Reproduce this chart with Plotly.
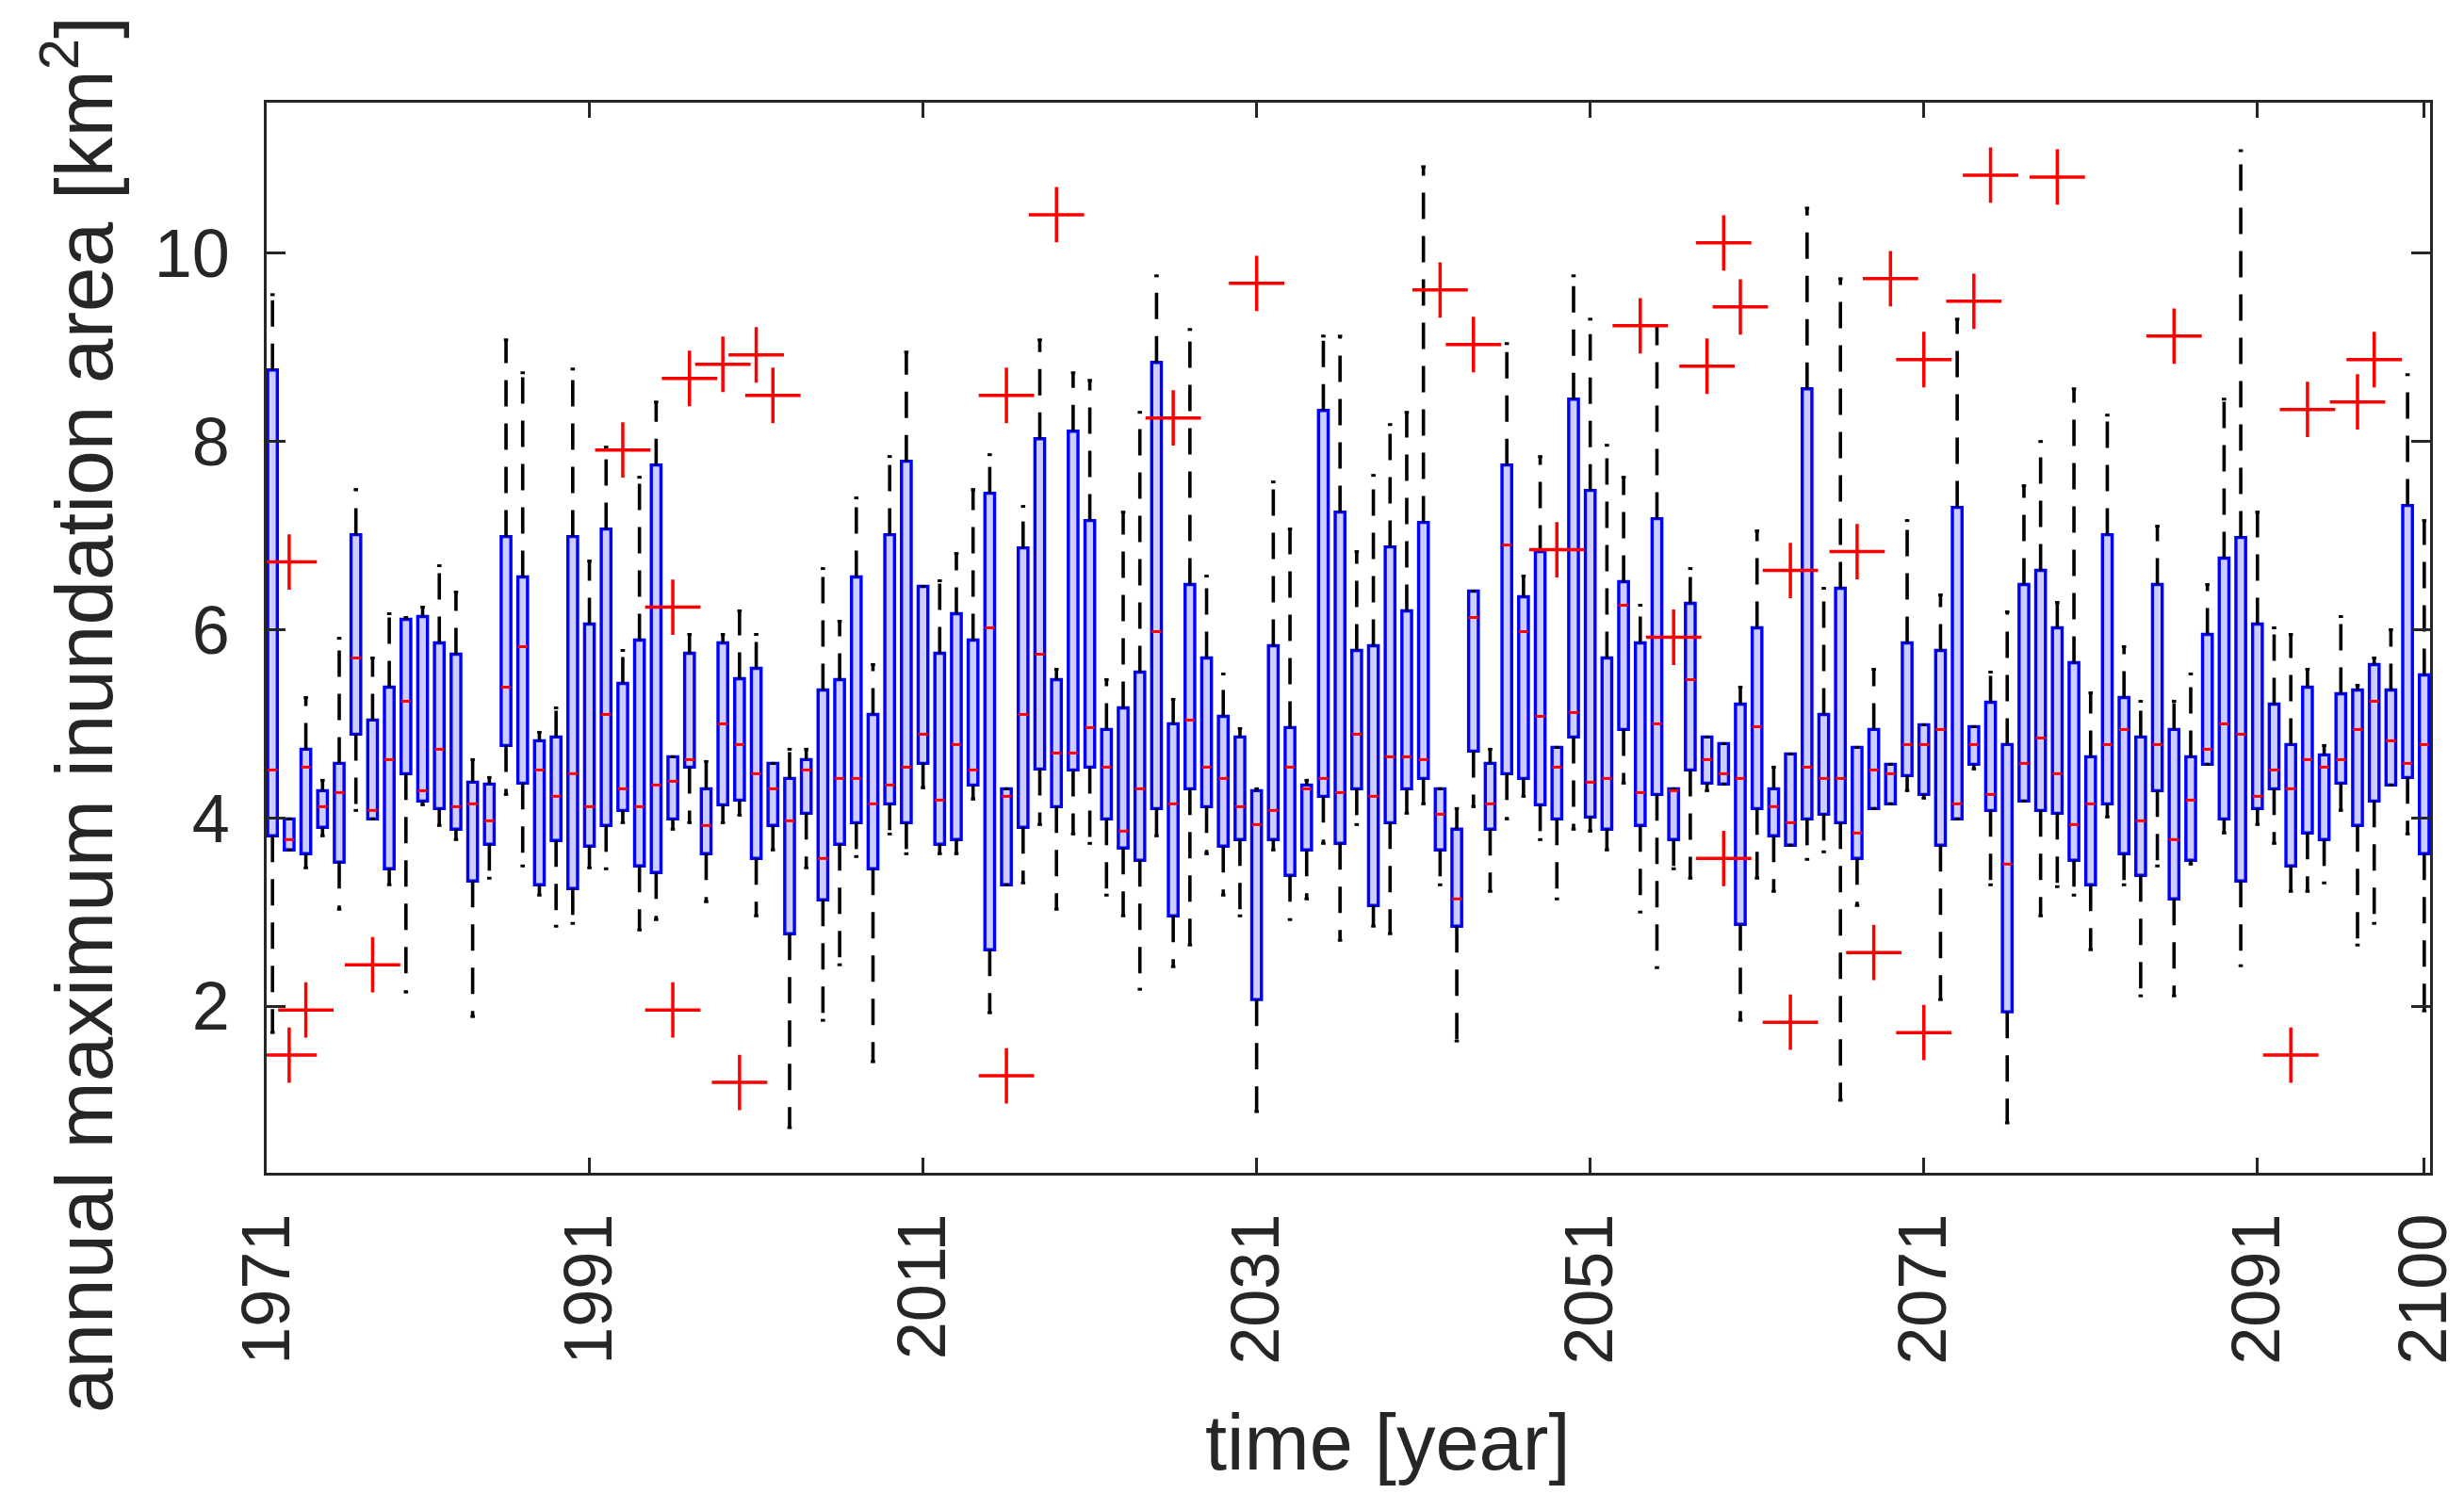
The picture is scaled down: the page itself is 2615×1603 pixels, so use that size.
import plotly.graph_objects as go

# one box per year, drawn at index positions 1..130
years = list(range(1971, 2101))
pos = list(range(1, len(years) + 1))

lo = [1.72, 3.66, 3.47, 3.81, 3.03, 4.08, 3.99, 3.29, 2.15, 4.14,
      3.92, 3.77, 1.89, 3.36, 4.25, 3.49, 3.18, 2.85, 2.88, 3.47,
      3.46, 3.95, 2.81, 2.92, 3.88, 3.95, 3.11, 3.95, 4.03, 2.96,
      3.66, 0.71, 3.47, 1.85, 2.44, 3.59, 1.41, 3.83, 3.62, 4.32,
      3.62, 3.62, 4.20, 1.93, 3.29, 3.31, 3.93, 3.03, 3.83, 3.73,
      3.18, 2.96, 2.18, 3.81, 2.42, 2.65, 3.62, 3.18, 2.96, 0.88,
      3.66, 2.92, 3.14, 3.73, 2.70, 3.93, 2.85, 2.77, 4.05, 4.15,
      3.29, 1.63, 4.12, 3.22, 3.99, 4.23, 3.77, 3.14, 3.88, 3.86,
      3.66, 4.37, 3.00, 2.41, 3.46, 3.36, 4.29, 4.36, 1.85, 3.36,
      3.22, 3.71, 3.56, 3.64, 1.00, 3.07, 4.10, 4.15, 4.29, 4.21,
      2.07, 3.99, 4.52, 3.29, 0.76, 4.18, 2.96, 3.27, 3.18, 2.60,
      4.01, 3.29, 2.11, 3.49, 2.11, 3.51, 4.57, 3.84, 2.43, 3.93,
      3.73, 3.22, 3.22, 3.31, 4.08, 2.65, 2.88, 4.35, 3.83, 1.95]

q1 = [3.81, 3.66, 3.62, 3.90, 3.53, 4.89, 3.99, 3.46, 4.47, 4.18,
      4.10, 3.88, 3.33, 3.72, 4.77, 4.37, 3.29, 3.76, 3.25, 3.70,
      3.92, 4.08, 3.49, 3.42, 3.99, 4.54, 3.62, 4.14, 4.19, 3.57,
      3.92, 2.77, 4.05, 3.13, 3.72, 3.95, 3.46, 4.15, 3.95, 4.58,
      3.72, 3.77, 4.35, 2.60, 3.29, 3.90, 4.52, 4.12, 4.51, 4.54,
      3.99, 3.68, 3.55, 4.10, 2.96, 4.31, 4.12, 3.70, 3.77, 2.07,
      3.77, 3.39, 3.66, 4.23, 3.73, 4.31, 3.07, 3.95, 4.31, 4.42,
      3.66, 2.85, 4.71, 3.88, 4.47, 4.42, 4.14, 3.99, 4.86, 4.01,
      3.88, 4.94, 3.92, 4.25, 3.77, 4.51, 4.37, 4.36, 2.87, 4.10,
      3.81, 3.71, 3.99, 4.04, 3.95, 3.57, 4.10, 4.15, 4.45, 4.25,
      3.71, 3.99, 4.57, 4.08, 1.94, 4.18, 4.08, 4.05, 3.55, 3.29,
      4.15, 3.62, 3.39, 4.29, 3.14, 3.55, 4.57, 3.99, 3.33, 4.10,
      4.31, 3.49, 3.84, 3.77, 4.37, 3.92, 4.18, 4.35, 4.43, 3.62]

med = [4.51, 3.77, 4.54, 4.12, 4.27, 5.70, 4.08, 4.62, 5.24, 4.29,
       4.73, 4.12, 4.15, 3.97, 5.39, 5.82, 4.51, 4.23, 4.47, 4.12,
       5.10, 4.31, 4.12, 4.35, 4.39, 4.62, 3.92, 5.00, 4.78, 4.47,
       4.31, 3.97, 4.51, 3.57, 4.42, 4.42, 4.15, 4.35, 4.54, 4.89,
       4.19, 4.78, 4.51, 6.02, 4.23, 5.10, 5.74, 4.69, 4.69, 4.96,
       4.54, 3.86, 4.31, 5.98, 4.15, 5.04, 4.54, 4.42, 4.12, 3.93,
       4.08, 4.54, 4.31, 4.42, 4.27, 4.89, 4.23, 4.65, 4.65, 4.62,
       4.04, 3.14, 6.13, 4.15, 6.90, 5.98, 5.08, 4.54, 5.12, 4.38,
       4.42, 6.26, 4.27, 5.00, 4.29, 5.47, 4.62, 4.47, 4.42, 4.97,
       4.12, 3.95, 4.54, 4.42, 4.42, 3.84, 4.51, 4.47, 4.78, 4.78,
       4.94, 4.15, 4.78, 4.25, 3.51, 4.58, 4.85, 4.47, 3.93, 4.15,
       4.78, 4.94, 3.97, 4.78, 3.77, 4.19, 4.73, 5.00, 4.89, 4.23,
       4.51, 4.31, 4.62, 4.54, 4.62, 4.94, 5.24, 4.82, 4.58, 4.78]

q3 = [8.76, 3.99, 4.73, 4.29, 4.58, 7.01, 5.04, 5.39, 6.11, 6.14,
      5.86, 5.74, 4.38, 4.36, 6.99, 6.56, 4.82, 4.86, 6.99, 6.06,
      7.07, 5.43, 5.89, 7.75, 4.65, 5.75, 4.31, 5.86, 5.48, 5.59,
      4.58, 4.42, 4.62, 5.36, 5.47, 6.56, 5.10, 7.01, 7.79, 6.46,
      5.75, 6.17, 5.89, 7.45, 4.31, 6.87, 8.03, 5.47, 8.11, 7.16,
      4.94, 5.17, 5.55, 8.84, 5.00, 6.48, 5.70, 5.08, 4.86, 4.29,
      5.83, 4.96, 4.35, 8.33, 7.25, 5.78, 5.83, 6.88, 6.20, 7.14,
      4.31, 3.88, 6.41, 4.58, 7.75, 6.35, 6.83, 4.75, 8.45, 7.48,
      5.70, 6.51, 5.86, 7.18, 4.31, 6.28, 4.86, 4.79, 5.21, 6.02,
      4.31, 4.68, 8.56, 5.10, 6.44, 4.75, 4.94, 4.57, 5.86, 4.99,
      5.78, 7.30, 4.97, 5.23, 4.78, 6.48, 6.63, 6.02, 5.65, 4.65,
      7.01, 5.28, 4.86, 6.48, 4.94, 4.65, 5.95, 6.76, 6.98, 6.06,
      5.21, 4.78, 5.39, 4.67, 5.32, 5.36, 5.63, 5.36, 7.32, 5.52]

hi = [9.56, 3.99, 5.28, 4.40, 5.91, 7.49, 5.70, 6.17, 6.13, 6.24,
      6.68, 6.40, 4.62, 4.43, 9.08, 8.73, 4.91, 5.17, 8.77, 6.73,
      7.94, 5.78, 7.62, 8.42, 4.65, 5.95, 4.60, 5.95, 6.20, 5.95,
      4.58, 4.73, 4.73, 6.65, 6.09, 7.40, 5.63, 7.84, 8.95, 6.46,
      6.52, 6.81, 7.49, 7.86, 4.31, 7.31, 9.08, 5.58, 8.73, 8.65,
      5.47, 7.25, 8.31, 9.76, 5.26, 9.19, 6.57, 5.53, 4.95, 4.31,
      7.57, 7.07, 4.40, 9.12, 9.12, 6.83, 7.64, 8.18, 8.31, 10.92,
      4.31, 4.10, 6.41, 4.73, 9.04, 6.57, 7.84, 4.75, 9.76, 9.30,
      7.96, 7.62, 6.26, 9.23, 4.31, 6.65, 4.86, 4.79, 5.39, 7.05,
      4.54, 4.68, 10.48, 6.44, 9.73, 4.75, 5.58, 4.57, 7.16, 4.99,
      6.37, 9.30, 4.97, 5.55, 6.19, 7.53, 8.00, 6.29, 8.56, 5.33,
      8.28, 5.82, 5.24, 7.10, 5.24, 5.53, 6.48, 8.45, 11.09, 7.25,
      6.02, 5.95, 5.58, 4.77, 6.14, 5.41, 5.70, 6.00, 8.71, 7.16]

# outliers: box index and value
out_pos = [2, 2, 3, 7, 22, 25, 25, 26, 28, 29, 30, 31, 45, 45, 48, 55, 60,
           71, 73, 78, 83, 85, 87, 88, 88, 89, 92, 92, 96, 97, 98, 100, 100,
           103, 104, 108, 115, 122, 123, 126, 127]
out_val = [6.72, 1.48, 1.96, 2.44, 7.91, 6.24, 1.96, 8.67, 8.82, 1.19, 8.92,
           8.49, 8.49, 1.26, 10.41, 8.25, 9.68, 9.61, 9.03, 6.85, 9.23, 5.92,
           8.80, 10.11, 3.57, 9.43, 6.63, 1.83, 6.83, 2.57, 9.73, 8.87, 1.72,
           9.49, 10.83, 10.81, 9.12, 1.48, 8.34, 8.42, 8.87]

tick_pos = [0.66, 20, 40, 60, 80, 100, 120, 130]
tick_text = ['1971', '1991', '2011', '2031', '2051', '2071', '2091', '2100']

BOX_W = 0.58
CAP = 0.13
FONT = 'Liberation Sans, Arial, sans-serif'
INK = '#262626'

# whiskers (dashed) from box edges to adjacent values
wx, wy = [], []
for p, a, b, c, d in zip(pos, lo, q1, q3, hi):
    wx += [p, p, None, p, p, None]
    wy += [c, d, None, b, a, None]

# short caps at the adjacent values
cx, cy = [], []
for p, a, d in zip(pos, lo, hi):
    cx += [p - CAP, p + CAP, None, p - CAP, p + CAP, None]
    cy += [d, d, None, a, a, None]

# medians
mx, my = [], []
for p, m in zip(pos, med):
    mx += [p - BOX_W / 2, p + BOX_W / 2, None]
    my += [m, m, None]

fig = go.Figure()

fig.add_trace(go.Bar(
    x=pos, y=[b - a for a, b in zip(q1, q3)], base=q1, width=BOX_W,
    marker=dict(color='#cdcdff', line=dict(color='#0000ff', width=3.4)),
    hoverinfo='skip'))

fig.add_trace(go.Scatter(
    x=wx, y=wy, mode='lines',
    line=dict(color='black', width=3.6, dash='28px,18px'), hoverinfo='skip'))

fig.add_trace(go.Scatter(
    x=cx, y=cy, mode='lines',
    line=dict(color='black', width=3), hoverinfo='skip'))

fig.add_trace(go.Scatter(
    x=mx, y=my, mode='lines',
    line=dict(color='#ff0000', width=3), hoverinfo='skip'))

fig.add_trace(go.Scatter(
    x=out_pos, y=out_val, mode='markers',
    marker=dict(symbol='cross-thin', size=42,
                line=dict(color='#ff0000', width=3.5)),
    hoverinfo='skip'))

fig.update_layout(
    width=2615, height=1603,
    margin=dict(l=275, r=42, t=101, b=366),
    paper_bgcolor='white', plot_bgcolor='white',
    showlegend=False, barmode='overlay',
    font=dict(family=FONT, color=INK),
    xaxis=dict(
        range=[0.65, 130.35], tickvals=tick_pos, ticktext=tick_text,
        tickangle=-90, ticks='inside', ticklen=16, tickwidth=2.5, tickcolor=INK,
        showline=True, linecolor=INK, linewidth=2.5, mirror='ticks',
        showgrid=False, zeroline=False,
        tickfont=dict(size=72, family=FONT, color=INK),
        ticklabelstandoff=12),
    yaxis=dict(
        range=[0.23, 11.6], tickvals=[2, 4, 6, 8, 10],
        ticks='inside', ticklen=20, tickwidth=2.5, tickcolor=INK,
        showline=True, linecolor=INK, linewidth=2.5, mirror='ticks',
        showgrid=False, zeroline=False,
        tickfont=dict(size=72, family=FONT, color=INK),
        ticklabelstandoff=22),
    annotations=[
        dict(text='time [year]', xref='paper', yref='paper',
             x=0.518, y=-0.252, xanchor='center', yanchor='middle',
             showarrow=False, font=dict(size=83, family=FONT, color=INK)),
        dict(text='annual maximum inundation area [km<sup>2</sup>]',
             xref='paper', yref='paper', x=-0.087, y=0.428,
             xanchor='center', yanchor='middle', textangle=-90,
             showarrow=False, font=dict(size=85.5, family=FONT, color=INK)),
    ],
)

fig.write_html('out.html')
